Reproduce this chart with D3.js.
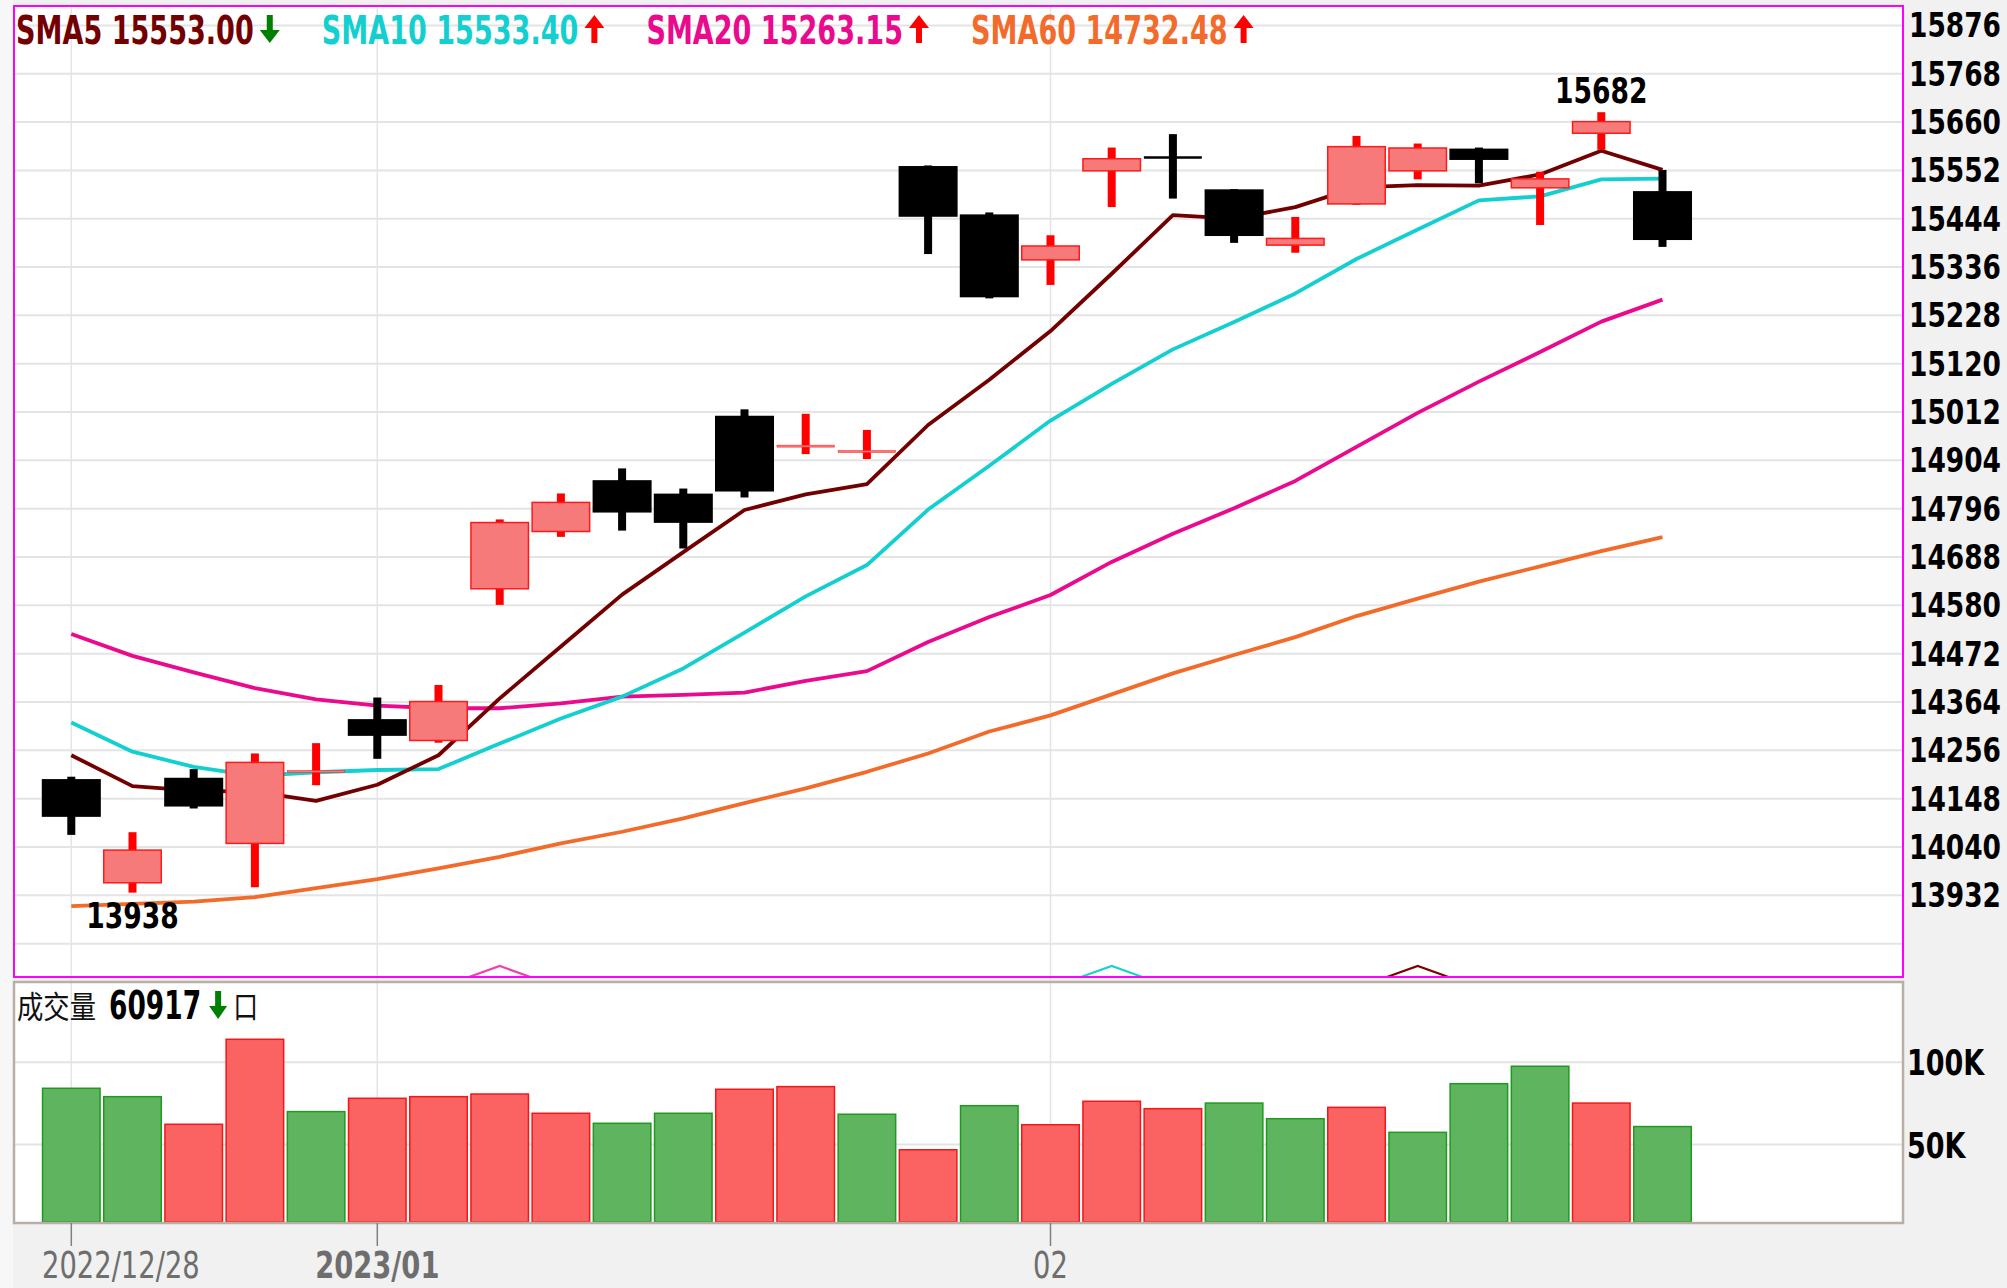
<!DOCTYPE html>
<html>
<head>
<meta charset="utf-8">
<script src="https://cdn.jsdelivr.net/npm/d3@7"></script>
<style>
  html, body { margin: 0; padding: 0; background: #f0f1f0; }
</style>
</head>
<body>
<div id="kChart"></div>
<script>
// Candle data (one entry per session)
const sessions = d3.range(27);
const open  = [14190, 13960, 14193, 14048, 14208, 14324, 14278, 14617, 14745, 14858, 14828, 15002, 14935, 14923, 15560, 15452, 15352, 15551, 15583, 15508, 15385, 15477, 15551, 15599, 15513, 15635, 15504];
const high  = [14197, 14073, 14214, 14249, 14272, 14374, 14402, 14772, 14830, 14886, 14841, 15018, 15008, 14972, 15563, 15458, 15407, 15603, 15633, 15510, 15448, 15629, 15612, 15603, 15549, 15682, 15553];
const low   = [14067, 13938, 14126, 13950, 14178, 14237, 14273, 14581, 14733, 14747, 14707, 14821, 14918, 14907, 15365, 15266, 15296, 15470, 15489, 15390, 15368, 15475, 15532, 15523, 15430, 15598, 15381];
const close = [14109, 14033, 14132, 14229, 14211, 14290, 14365, 14765, 14810, 14789, 14766, 14836, 14938, 14926, 15450, 15270, 15383, 15578, 15580, 15407, 15400, 15605, 15602, 15577, 15533, 15661, 15398];

// Moving averages
const sma5  = [14245, 14176, 14166, 14163, 14143, 14179, 14245, 14372, 14488, 14604, 14699, 14793, 14828, 14851, 14983, 15084, 15193, 15321, 15452, 15444, 15470, 15514, 15519, 15518, 15543, 15596, 15553];
const sma10 = [14318, 14253, 14219, 14199, 14207, 14212, 14214, 14271, 14327, 14376, 14439, 14519, 14600, 14670, 14794, 14892, 14993, 15075, 15152, 15213, 15277, 15354, 15420, 15485, 15494, 15532, 15533.4];
const sma20 = [14516, 14467, 14430, 14395, 14370, 14356, 14350, 14350, 14361, 14376, 14380, 14385, 14411, 14433, 14498, 14554, 14603, 14677, 14740, 14797, 14858, 14934, 15010, 15080, 15146, 15214, 15263.15];
const sma60 = [13908, 13913, 13918, 13928, 13948, 13968, 13992, 14018, 14048, 14074, 14104, 14138, 14171, 14208, 14249, 14298, 14334, 14381, 14428, 14469, 14509, 14556, 14595, 14633, 14667, 14701, 14732.48];

// Volume and its colour direction (u = up, d = down)
const volume = [84200, 79100, 62300, 114000, 70000, 78100, 79100, 80700, 69000, 62900, 69000, 83600, 85200, 68400, 46800, 73600, 62000, 76300, 71800, 75200, 65700, 72600, 57400, 87000, 97600, 75200, 60917];
const volDir = ["d", "d", "u", "u", "d", "u", "u", "u", "u", "d", "d", "u", "u", "d", "u", "d", "u", "u", "u", "d", "d", "u", "d", "d", "d", "u", "d"];

// Axis ticks
const priceTicks = [15876, 15768, 15660, 15552, 15444, 15336, 15228, 15120, 15012, 14904, 14796, 14688, 14580, 14472, 14364, 14256, 14148, 14040, 13932];
const priceGrid = priceTicks.concat([13824]);
const volTicks = [100000, 50000];
const volTickLabels = ["100K", "50K"];
const dateAt = [0, 5, 16];
const dateLabels = ["2022/12/28", "2023/01", "02"];
const dateBold = [false, true, false];

// Legend
const maNames = ["SMA5", "SMA10", "SMA20", "SMA60"];
const maLast = ["15553.00", "15533.40", "15263.15", "14732.48"];
const maTrend = ["down", "up", "up", "up"];
const maColors = ["#720000", "#14cfd0", "#ea0a8e", "#f26b2a"];

// Crossing markers at the bottom of the price panel
const crossAt = [7, 17, 22];
const crossColors = ["#f040b0", "#20d0d0", "#800000"];

function createKChart() {
    const W = 2007, H = 1288;
    const main = {left: 14, right: 1903, top: 6, bottom: 977};
    const vol = {left: 14, right: 1903, top: 982, bottom: 1223};

    const svg = d3.select("#kChart")
        .append("svg")
        .attr("width", W)
        .attr("height", H)
        .style("display", "block");

    svg.append("rect").attr("width", W).attr("height", H).attr("fill", "#f0f1f0");
    svg.append("rect").attr("width", 13).attr("height", H).attr("fill", "#f7f7f7");

    // Scales
    const x = d3.scaleBand()
        .domain(sessions)
        .range([40.7, 40.7 + 27 * 61.2])
        .paddingInner(0.06)
        .paddingOuter(0.03);
    const cx = i => x(i) + x.bandwidth() / 2;

    const y = d3.scaleLinear().domain([13932, 15876]).range([895.3, 25.4]);
    const yv = d3.scaleLinear().domain([0, 100000]).range([1226.7, 1062.3]);

    // helper for the narrow, tall text of the original
    function txt(g, s, px, py, o) {
        return g.append("text")
            .attr("transform", `translate(${px},${py}) scale(${o.sx || 1},1)`)
            .attr("font-family", o.family || "DejaVu Sans")
            .attr("font-weight", o.bold ? "bold" : "normal")
            .attr("font-size", o.size)
            .attr("fill", o.fill || "#000")
            .attr("text-anchor", o.anchor || "start")
            .text(s);
    }

    function arrowPath(dir, w, h) {
        const sw = 6, hh = 13;
        if (dir === "down") {
            return `M${(w - sw) / 2},0 h${sw} v${h - hh} h${(w - sw) / 2} L${w / 2},${h} L0,${h - hh} h${(w - sw) / 2} Z`;
        }
        return `M${w / 2},0 L${w},${hh} h${-(w - sw) / 2} v${h - hh} h${-sw} v${-(h - hh)} H0 Z`;
    }

    // Panels
    svg.append("rect")
        .attr("x", main.left).attr("y", main.top)
        .attr("width", main.right - main.left).attr("height", main.bottom - main.top)
        .attr("fill", "#fff");
    svg.append("rect")
        .attr("x", vol.left).attr("y", vol.top)
        .attr("width", vol.right - vol.left).attr("height", vol.bottom - vol.top)
        .attr("fill", "#fff");

    // Grid lines
    svg.append("g").selectAll("line")
        .data(priceGrid)
        .enter().append("line")
        .attr("x1", main.left).attr("x2", main.right)
        .attr("y1", d => y(d)).attr("y2", d => y(d))
        .attr("stroke", "#e4e4e4").attr("stroke-width", 2);
    svg.append("g").selectAll("line")
        .data(volTicks)
        .enter().append("line")
        .attr("x1", vol.left).attr("x2", vol.right)
        .attr("y1", d => yv(d)).attr("y2", d => yv(d))
        .attr("stroke", "#e4e4e4").attr("stroke-width", 2);
    svg.append("g").selectAll("line")
        .data(dateAt)
        .enter().append("line")
        .attr("x1", d => cx(d)).attr("x2", d => cx(d))
        .attr("y1", main.top).attr("y2", vol.bottom)
        .attr("stroke", "#e4e4e4").attr("stroke-width", 1.5);

    // Volume bars
    svg.append("g").selectAll("rect")
        .data(sessions)
        .enter().append("rect")
        .attr("x", i => x(i))
        .attr("y", i => yv(volume[i]))
        .attr("width", x.bandwidth())
        .attr("height", i => vol.bottom - 1 - yv(volume[i]))
        .attr("fill", i => volDir[i] === "u" ? "#fb6262" : "#5fb55f")
        .attr("stroke", i => volDir[i] === "u" ? "#f01818" : "#1f9a1f")
        .attr("stroke-width", 1.5);

    // Moving average lines
    const line = d3.line().x((d, i) => cx(i)).y(d => y(d));
    [sma60, sma20, sma10, sma5].forEach((s, k) => {
        svg.append("path")
            .datum(s)
            .attr("d", line)
            .attr("fill", "none")
            .attr("stroke", maColors[3 - k])
            .attr("stroke-width", 3.8)
            .attr("stroke-linejoin", "round");
    });

    // Candles: wicks then bodies
    const candles = svg.append("g");
    candles.selectAll("rect.wick")
        .data(sessions)
        .enter().append("rect")
        .attr("class", "wick")
        .attr("x", i => cx(i) - 4)
        .attr("y", i => y(high[i]))
        .attr("width", 8)
        .attr("height", i => y(low[i]) - y(high[i]))
        .attr("fill", i => close[i] >= open[i] ? "#ff0000" : "#000");
    candles.selectAll("rect.body")
        .data(sessions)
        .enter().append("rect")
        .attr("class", "body")
        .attr("x", i => x(i))
        .attr("y", i => y(Math.max(open[i], close[i])))
        .attr("width", x.bandwidth())
        .attr("height", i => Math.max(2, Math.abs(y(open[i]) - y(close[i]))))
        .attr("fill", i => close[i] >= open[i] ? "#f77a7a" : "#000")
        .attr("stroke", i => close[i] >= open[i] ? "#ff1a1a" : "#000")
        .attr("stroke-width", i => Math.abs(y(open[i]) - y(close[i])) < 3 ? 0.5 : 1.5);

    // Crossing markers
    svg.append("g").selectAll("path")
        .data(crossAt)
        .enter().append("path")
        .attr("d", d => `M${x(d) - 2},${main.bottom} L${cx(d)},${main.bottom - 11} L${x(d) + x.bandwidth() + 2},${main.bottom}`)
        .attr("fill", "none")
        .attr("stroke", (d, k) => crossColors[k])
        .attr("stroke-width", 2.2);

    // Panel borders
    svg.append("rect")
        .attr("x", main.left).attr("y", main.top)
        .attr("width", main.right - main.left).attr("height", main.bottom - main.top)
        .attr("fill", "none").attr("stroke", "#ff00ff").attr("stroke-width", 2);
    svg.append("rect")
        .attr("x", vol.left).attr("y", vol.top)
        .attr("width", vol.right - vol.left).attr("height", vol.bottom - vol.top)
        .attr("fill", "none").attr("stroke", "#b8b0a8").attr("stroke-width", 2.5);

    // Date ticks and labels
    svg.append("g").selectAll("line")
        .data(dateAt)
        .enter().append("line")
        .attr("x1", d => cx(d)).attr("x2", d => cx(d))
        .attr("y1", vol.bottom).attr("y2", 1246)
        .attr("stroke", "#808080").attr("stroke-width", 1.5);
    const dateG = svg.append("g");
    const dateBase = 1278;
    dateAt.forEach((d, k) => {
        const sx = 0.74;
        const t = txt(dateG, dateLabels[k], 0, dateBase, {size: 37, sx: sx, bold: dateBold[k], fill: "#6e6e6e", anchor: "middle"});
        const w = t.node().getComputedTextLength() * sx;
        const px = Math.max(42 + w / 2, cx(d));
        t.attr("transform", `translate(${px},${dateBase}) scale(${sx},1)`);
    });

    // Price axis labels
    const yAxisG = svg.append("g");
    priceTicks.forEach(v => txt(yAxisG, v, 1909, y(v) + 12, {size: 33.5, sx: 0.79, bold: true}));

    // Volume axis labels
    volTicks.forEach((v, k) => txt(yAxisG, volTickLabels[k], 1907, yv(v) + 13, {size: 36, sx: 0.75, bold: true}));

    // High / low annotations
    const iHi = d3.maxIndex(high), iLo = d3.minIndex(low);
    txt(svg, high[iHi], cx(iHi), y(high[iHi]) - 9, {size: 35, sx: 0.76, bold: true, anchor: "middle"});
    txt(svg, low[iLo], cx(iLo), y(low[iLo]) + 35, {size: 35, sx: 0.76, bold: true, anchor: "middle"});

    // Legend
    const legend = svg.append("g");
    let cursor = 16;
    maNames.forEach((n, k) => {
        const t = txt(legend, `${n} ${maLast[k]}`, cursor, 44, {size: 38.4, sx: 0.705, bold: true, fill: maColors[k]});
        const w = t.node().getComputedTextLength() * 0.705;
        legend.append("path")
            .attr("transform", `translate(${cursor + w + 6},15)`)
            .attr("d", arrowPath(maTrend[k], 20, 28))
            .attr("fill", maTrend[k] === "down" ? "#008000" : "#ff0000");
        cursor += w + 6 + 20 + 42;
    });

    // Volume title
    const vt = svg.append("g");
    txt(vt, "成交量", 17, 1018, {size: 31, sx: 0.85, family: "Noto Sans CJK TC", fill: "#111"});
    const vn = txt(vt, volume[volume.length - 1], 109, 1019, {size: 38.4, sx: 0.69, bold: true});
    const vw = vn.node().getComputedTextLength() * 0.69;
    vt.append("path")
        .attr("transform", `translate(${109 + vw + 8},991)`)
        .attr("d", arrowPath("down", 18, 28))
        .attr("fill", "#008000");
    txt(vt, "口", 109 + vw + 32, 1018, {size: 31, sx: 0.8, family: "Noto Sans CJK TC", fill: "#111"});
}

createKChart();
</script>
</body>
</html>
